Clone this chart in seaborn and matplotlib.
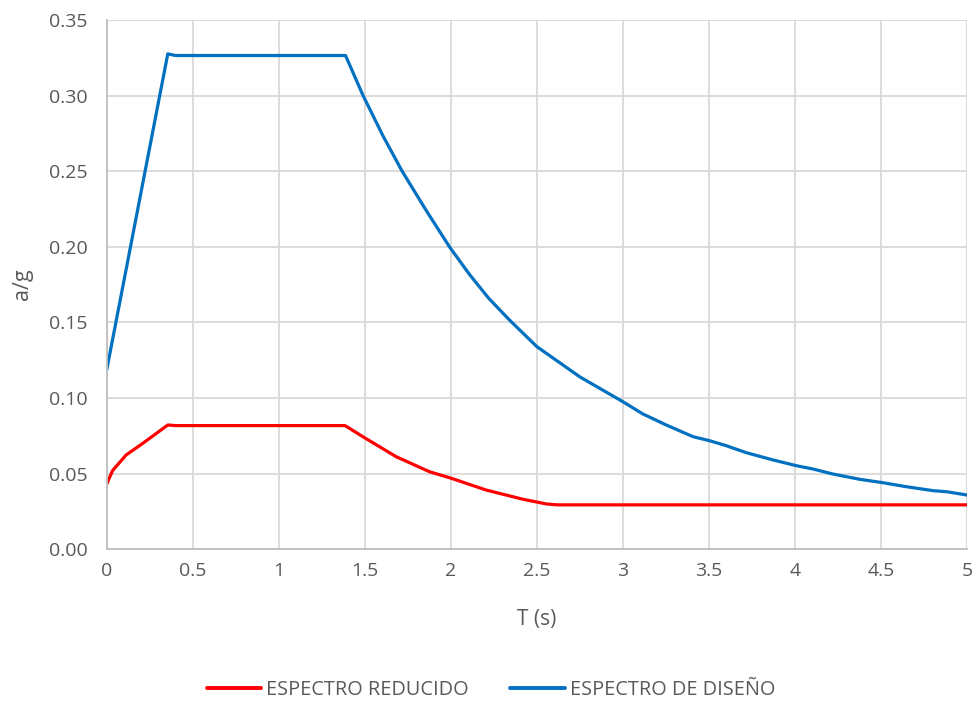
import pandas as pd
import matplotlib.pyplot as plt
import seaborn as sns

# periods and ordinates
t_diseno = [0, 0.355, 0.40, 1.388, 1.49, 1.605, 1.717, 1.857, 1.992, 2.11, 2.22, 2.34, 2.50,
            2.75, 2.864, 3.0, 3.116, 3.252, 3.407, 3.504, 3.601, 3.717, 3.872, 4.008,
            4.105, 4.22, 4.376, 4.508, 4.647, 4.802, 4.88, 5.0]
sa_diseno = [0.1186, 0.3276, 0.3265, 0.3265, 0.300, 0.2735, 0.250, 0.224, 0.200, 0.1815,
             0.166, 0.1517, 0.134, 0.114, 0.1065, 0.0976, 0.0895, 0.0822, 0.0745, 0.0718,
             0.0685, 0.0639, 0.0591, 0.0553, 0.0531, 0.0498, 0.0463, 0.0441, 0.0414,
             0.0388, 0.0381, 0.0359]

t_reducido = [0, 0.035, 0.113, 0.21, 0.355, 0.40, 1.385, 1.504, 1.683, 1.876, 2.002,
              2.205, 2.419, 2.555, 2.62, 5.0]
sa_reducido = [0.0432, 0.0522, 0.0624, 0.0701, 0.0822, 0.0818, 0.0818, 0.0734, 0.0612,
               0.0513, 0.0470, 0.0392, 0.0331, 0.0300, 0.0294, 0.0294]

x_ticks = [0, 0.5, 1, 1.5, 2, 2.5, 3, 3.5, 4, 4.5, 5]
x_labels = ["0", "0.5", "1", "1.5", "2", "2.5", "3", "3.5", "4", "4.5", "5"]
y_ticks = [0, 0.05, 0.10, 0.15, 0.20, 0.25, 0.30, 0.35]

sns.set_theme(style="white")
plt.rcParams["font.family"] = ["Open Sans", "DejaVu Sans"]

df = pd.concat([
    pd.DataFrame({"T": t_reducido, "a/g": sa_reducido, "serie": "ESPECTRO REDUCIDO"}),
    pd.DataFrame({"T": t_diseno, "a/g": sa_diseno, "serie": "ESPECTRO DE DISEÑO"}),
])

fig = plt.figure(figsize=(9.78, 7.03), dpi=100)
ax = fig.add_axes([0.1091, 0.2186, 0.8797, 0.753])

sns.lineplot(
    data=df, x="T", y="a/g", hue="serie", sort=False,
    palette={"ESPECTRO REDUCIDO": "#FF0000", "ESPECTRO DE DISEÑO": "#0070C0"},
    linewidth=2.3, ax=ax, legend=True
)

ax.set_xlim(0, 5)
ax.set_ylim(0, 0.35)
ax.set_xticks(x_ticks)
ax.set_xticklabels(x_labels)
ax.set_yticks(y_ticks)
ax.set_yticklabels([f"{v:.2f}" for v in y_ticks])
ax.grid(True, color="#d9d9d9", linewidth=1.3)
ax.set_axisbelow(True)
for side in ["top", "right"]:
    ax.spines[side].set_visible(False)
for side in ["left", "bottom"]:
    ax.spines[side].set_color("#bfbfbf")
    ax.spines[side].set_linewidth(1.3)
ax.tick_params(axis="both", colors="#595959", labelsize=14, length=0)
ax.tick_params(axis="y", pad=14)
ax.tick_params(axis="x", pad=9)

ax.set_xlabel("T (s)", fontsize=15, color="#595959")
ax.set_ylabel("a/g", fontsize=15.5, color="#595959")
ax.xaxis.set_label_coords(0.5, -0.113)
ax.yaxis.set_label_coords(-0.086, 0.5)

handles, labels = ax.get_legend_handles_labels()
ax.get_legend().remove()
leg = fig.legend(handles, labels, loc="center", bbox_to_anchor=(0.502, 1 - 690 / 703),
                 ncol=2, frameon=False, fontsize=14.3, handlelength=2.75,
                 columnspacing=2.1, handletextpad=0.25)
for txt in leg.get_texts():
    txt.set_color("#595959")
for line in leg.get_lines():
    line.set_linewidth(2.8)

fig.savefig("out.png", dpi=100)
